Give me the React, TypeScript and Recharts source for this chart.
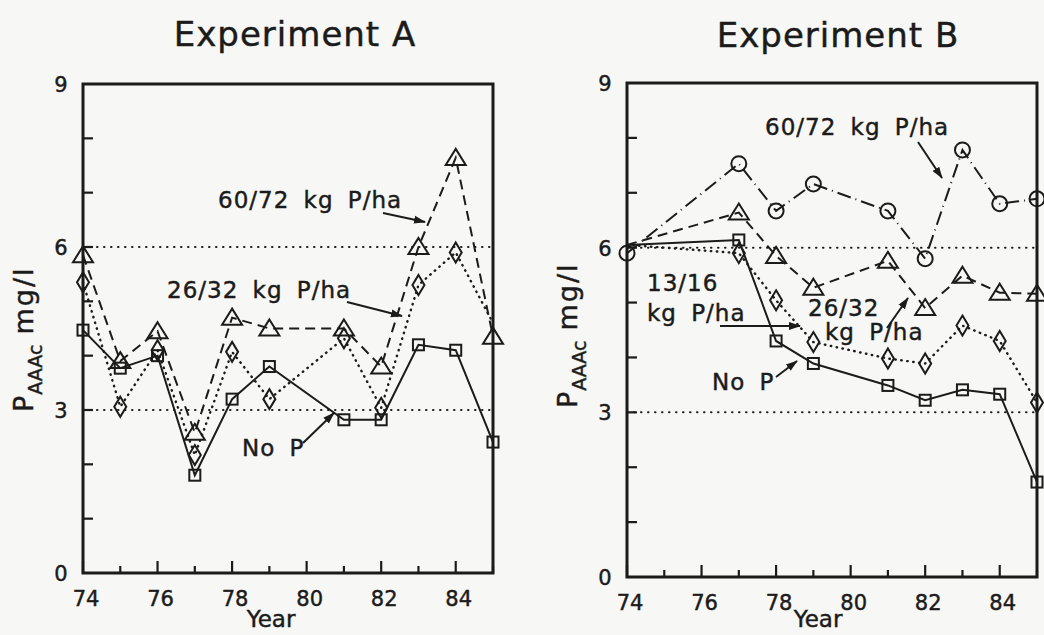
import React from 'react';
import { LineChart, Line, XAxis, YAxis, ReferenceLine, ReferenceArea } from 'recharts';

// Experiment A (no sample in 1980)
const yearsA = [74, 75, 76, 77, 78, 79, 81, 82, 83, 84, 85];
const noPA = [4.47, 3.77, 4.0, 1.8, 3.2, 3.8, 2.82, 2.82, 4.2, 4.1, 2.41];
const p26A = [5.35, 3.06, 4.1, 2.17, 4.07, 3.2, 4.32, 3.04, 5.3, 5.9, 4.6];
const p60A = [5.85, 3.9, 4.45, 2.58, 4.7, 4.5, 4.5, 3.8, 6.0, 7.64, 4.35];

// Experiment B (no samples in 1975, 1976, 1980)
const yearsB = [74, 77, 78, 79, 81, 82, 83, 84, 85];
const noPB = [6.05, 6.14, 4.3, 3.89, 3.49, 3.22, 3.41, 3.33, 1.73];
const p13B = [6.05, 5.9, 5.04, 4.28, 3.98, 3.89, 4.58, 4.3, 3.18];
const p26B = [6.05, 6.64, 5.85, 5.27, 5.76, 4.9, 5.49, 5.18, 5.16];
const p60B = [5.9, 7.53, 6.67, 7.16, 6.67, 5.8, 7.78, 6.8, 6.89];

const yearTicks = [74, 75, 76, 77, 78, 79, 80, 81, 82, 83, 84, 85];
const yearLabels = [74, 76, 78, 80, 82, 84];
const levelTicks = [0, 1, 2, 3, 4, 5, 6, 7, 8, 9];
const levelLabels = [0, 3, 6, 9];
const guideLevels = [3, 6];

const dataA = yearsA.map((year, i) => ({ year, noP: noPA[i], p26: p26A[i], p60: p60A[i] }));
const dataB = yearsB.map((year, i) => ({ year, noP: noPB[i], p13: p13B[i], p26: p26B[i], p60: p60B[i] }));

const INK = '#1b1b1b';
const PAPER = '#f7f7f5';
const FONT = "'DejaVu Sans', 'Liberation Sans', sans-serif";
// scanned lettering is a bit heavier than the plain font
const TEXT_INK = { fill: INK, stroke: INK, strokeWidth: 0.45 };

const DOTTED = '0.5 5.5';
const DASHED = '10 6';
const DASH_DOT = '14 5 1 5';

type Shape = 'square' | 'triangle' | 'diamond' | 'circle';

function marker(shape: Shape, skip: number[] = []) {
  return (props: any) => {
    const { cx, cy, index } = props;
    const key = `${shape}-${index}`;
    if (cx == null || cy == null || skip.includes(index)) return <g key={key} />;
    const common = { fill: 'none', stroke: INK, strokeWidth: 2 };
    if (shape === 'square') return <rect key={key} x={cx - 5.5} y={cy - 5.5} width={11} height={11} {...common} />;
    if (shape === 'triangle')
      return <path key={key} d={`M${cx},${cy - 9} L${cx + 10},${cy + 7} L${cx - 10},${cy + 7} Z`} {...common} />;
    if (shape === 'diamond')
      return <path key={key} d={`M${cx},${cy - 10} L${cx + 6},${cy} L${cx},${cy + 10} L${cx - 6},${cy} Z`} {...common} />;
    return <circle key={key} cx={cx} cy={cy} r={7.5} {...common} />;
  };
}

function YearTick({ x, y, payload }: any) {
  const v = payload.value;
  const major = v % 2 === 0;
  return (
    <g>
      <line x1={x} x2={x} y1={y} y2={y - (major ? 12 : 7)} stroke={INK} strokeWidth={2.2} />
      {yearLabels.includes(v) && (
        <text x={x + 3} y={y + 33} textAnchor="middle" fontSize={21} fontFamily={FONT} {...TEXT_INK}>
          {v}
        </text>
      )}
    </g>
  );
}

function LevelTick({ x, y, payload }: any) {
  const v = payload.value;
  return (
    <g>
      {v > 0 && v < 9 && <line x1={x} x2={x + 10} y1={y} y2={y} stroke={INK} strokeWidth={2.2} />}
      {levelLabels.includes(v) && (
        <text x={x - 22} y={y + 8} textAnchor="middle" fontSize={21} fontFamily={FONT} {...TEXT_INK}>
          {v}
        </text>
      )}
    </g>
  );
}

function Axes() {
  return [
    <XAxis
      key="x"
      dataKey="year"
      type="number"
      domain={[74, 85]}
      ticks={yearTicks}
      interval={0}
      tickSize={0}
      tickMargin={0}
      axisLine={false}
      tickLine={false}
      tick={<YearTick />}
      height={40}
    />,
    <YAxis
      key="y"
      type="number"
      domain={[0, 9]}
      ticks={levelTicks}
      interval={0}
      tickSize={0}
      tickMargin={0}
      axisLine={false}
      tickLine={false}
      tick={<LevelTick />}
      width={40}
    />,
  ];
}

function Guides() {
  return [
    ...guideLevels.map((g) => (
      <ReferenceLine key={`g${g}`} y={g} stroke={INK} strokeWidth={2} strokeDasharray="0.5 6.5" strokeLinecap="round" />
    )),
    <ReferenceArea key="frame" x1={74} x2={85} y1={0} y2={9} fill="none" fillOpacity={0} stroke={INK} strokeWidth={3} />,
  ];
}

function YLabel({ x, y }: { x: number; y: number }) {
  return (
    <text x={x} y={y} transform={`rotate(-90, ${x}, ${y})`} fontFamily={FONT} {...TEXT_INK}>
      <tspan fontSize={27}>P</tspan>
      <tspan fontSize={19} dy={9} dx={1}>AAAc</tspan>
      <tspan fontSize={27} dy={-9} dx={10} letterSpacing={2}>mg/l</tspan>
    </text>
  );
}

function Note({ x, y, children }: { x: number; y: number; children: string }) {
  return (
    <text x={x} y={y} fontSize={23} fontFamily={FONT} {...TEXT_INK} letterSpacing={1} style={{ wordSpacing: 6 }}>
      {children}
    </text>
  );
}

function Arrow({ from, to }: { from: [number, number]; to: [number, number] }) {
  return <line x1={from[0]} y1={from[1]} x2={to[0]} y2={to[1]} stroke={INK} strokeWidth={2} markerEnd="url(#head)" />;
}

export default function App() {
  const lineBase = { type: 'linear' as const, stroke: INK, strokeWidth: 2, isAnimationActive: false, activeDot: false };

  return (
    <div style={{ position: 'absolute', left: 0, top: 0, width: 1044, height: 635, background: PAPER, overflow: 'hidden' }}>
      <div style={{ position: 'absolute', left: 0, top: 0 }}>
        <LineChart width={522} height={635} data={dataA} margin={{ top: 84, right: 29, bottom: 22, left: 43 }}>
          {Axes()}
          {Guides()}
          <Line {...lineBase} dataKey="noP" dot={marker('square')} />
          <Line {...lineBase} dataKey="p26" strokeDasharray={DOTTED} strokeLinecap="round" strokeWidth={2.4} dot={marker('diamond', [10])} />
          <Line {...lineBase} dataKey="p60" strokeDasharray={DASHED} dot={marker('triangle')} />
        </LineChart>
      </div>
      <div style={{ position: 'absolute', left: 522, top: 0 }}>
        <LineChart width={522} height={635} data={dataB} margin={{ top: 83, right: 7, bottom: 18, left: 65 }}>
          {Axes()}
          {Guides()}
          <Line {...lineBase} dataKey="noP" dot={marker('square', [0])} />
          <Line {...lineBase} dataKey="p13" strokeDasharray={DOTTED} strokeLinecap="round" strokeWidth={2.4} dot={marker('diamond', [0])} />
          <Line {...lineBase} dataKey="p26" strokeDasharray={DASHED} dot={marker('triangle', [0])} />
          <Line {...lineBase} dataKey="p60" strokeDasharray={DASH_DOT} dot={marker('circle')} />
        </LineChart>
      </div>

      <svg width={1044} height={635} style={{ position: 'absolute', left: 0, top: 0, pointerEvents: 'none' }}>
        <defs>
          <marker id="head" viewBox="0 0 12 10" refX="11" refY="5" markerWidth="12" markerHeight="10" markerUnits="userSpaceOnUse" orient="auto">
            <path d="M0,1 L12,5 L0,9 Z" fill={INK} />
          </marker>
        </defs>

        <text x={295} y={46} textAnchor="middle" fontSize={34} fontFamily={FONT} {...TEXT_INK} letterSpacing={1}>
          Experiment A
        </text>
        <text x={838} y={47} textAnchor="middle" fontSize={34} fontFamily={FONT} {...TEXT_INK} letterSpacing={1}>
          Experiment B
        </text>

        <text x={271} y={627} textAnchor="middle" fontSize={23} fontFamily={FONT} {...TEXT_INK}>Year</text>
        <text x={818} y={627} textAnchor="middle" fontSize={23} fontFamily={FONT} {...TEXT_INK}>Year</text>

        <YLabel x={33} y={412} />
        <YLabel x={577} y={408} />

        {/* Experiment A annotations */}
        <Note x={218} y={208}>60/72 kg P/ha</Note>
        <Arrow from={[383, 213]} to={[425, 222]} />
        <Note x={167} y={298}>26/32 kg P/ha</Note>
        <Arrow from={[347, 302]} to={[402, 316]} />
        <Note x={242} y={456}>No P</Note>
        <Arrow from={[303, 443]} to={[334, 413]} />

        {/* Experiment B annotations */}
        <Note x={765} y={135}>60/72 kg P/ha</Note>
        <Arrow from={[918, 142]} to={[942, 178]} />
        <Note x={647} y={291}>13/16</Note>
        <Note x={647} y={321}>kg P/ha</Note>
        <Arrow from={[720, 326]} to={[800, 326]} />
        <Note x={808} y={316}>26/32</Note>
        <Note x={825} y={340}>kg P/ha</Note>
        <Arrow from={[887, 328]} to={[908, 298]} />
        <Note x={712} y={390}>No P</Note>
        <Arrow from={[776, 377]} to={[797, 361]} />
      </svg>
    </div>
  );
}
